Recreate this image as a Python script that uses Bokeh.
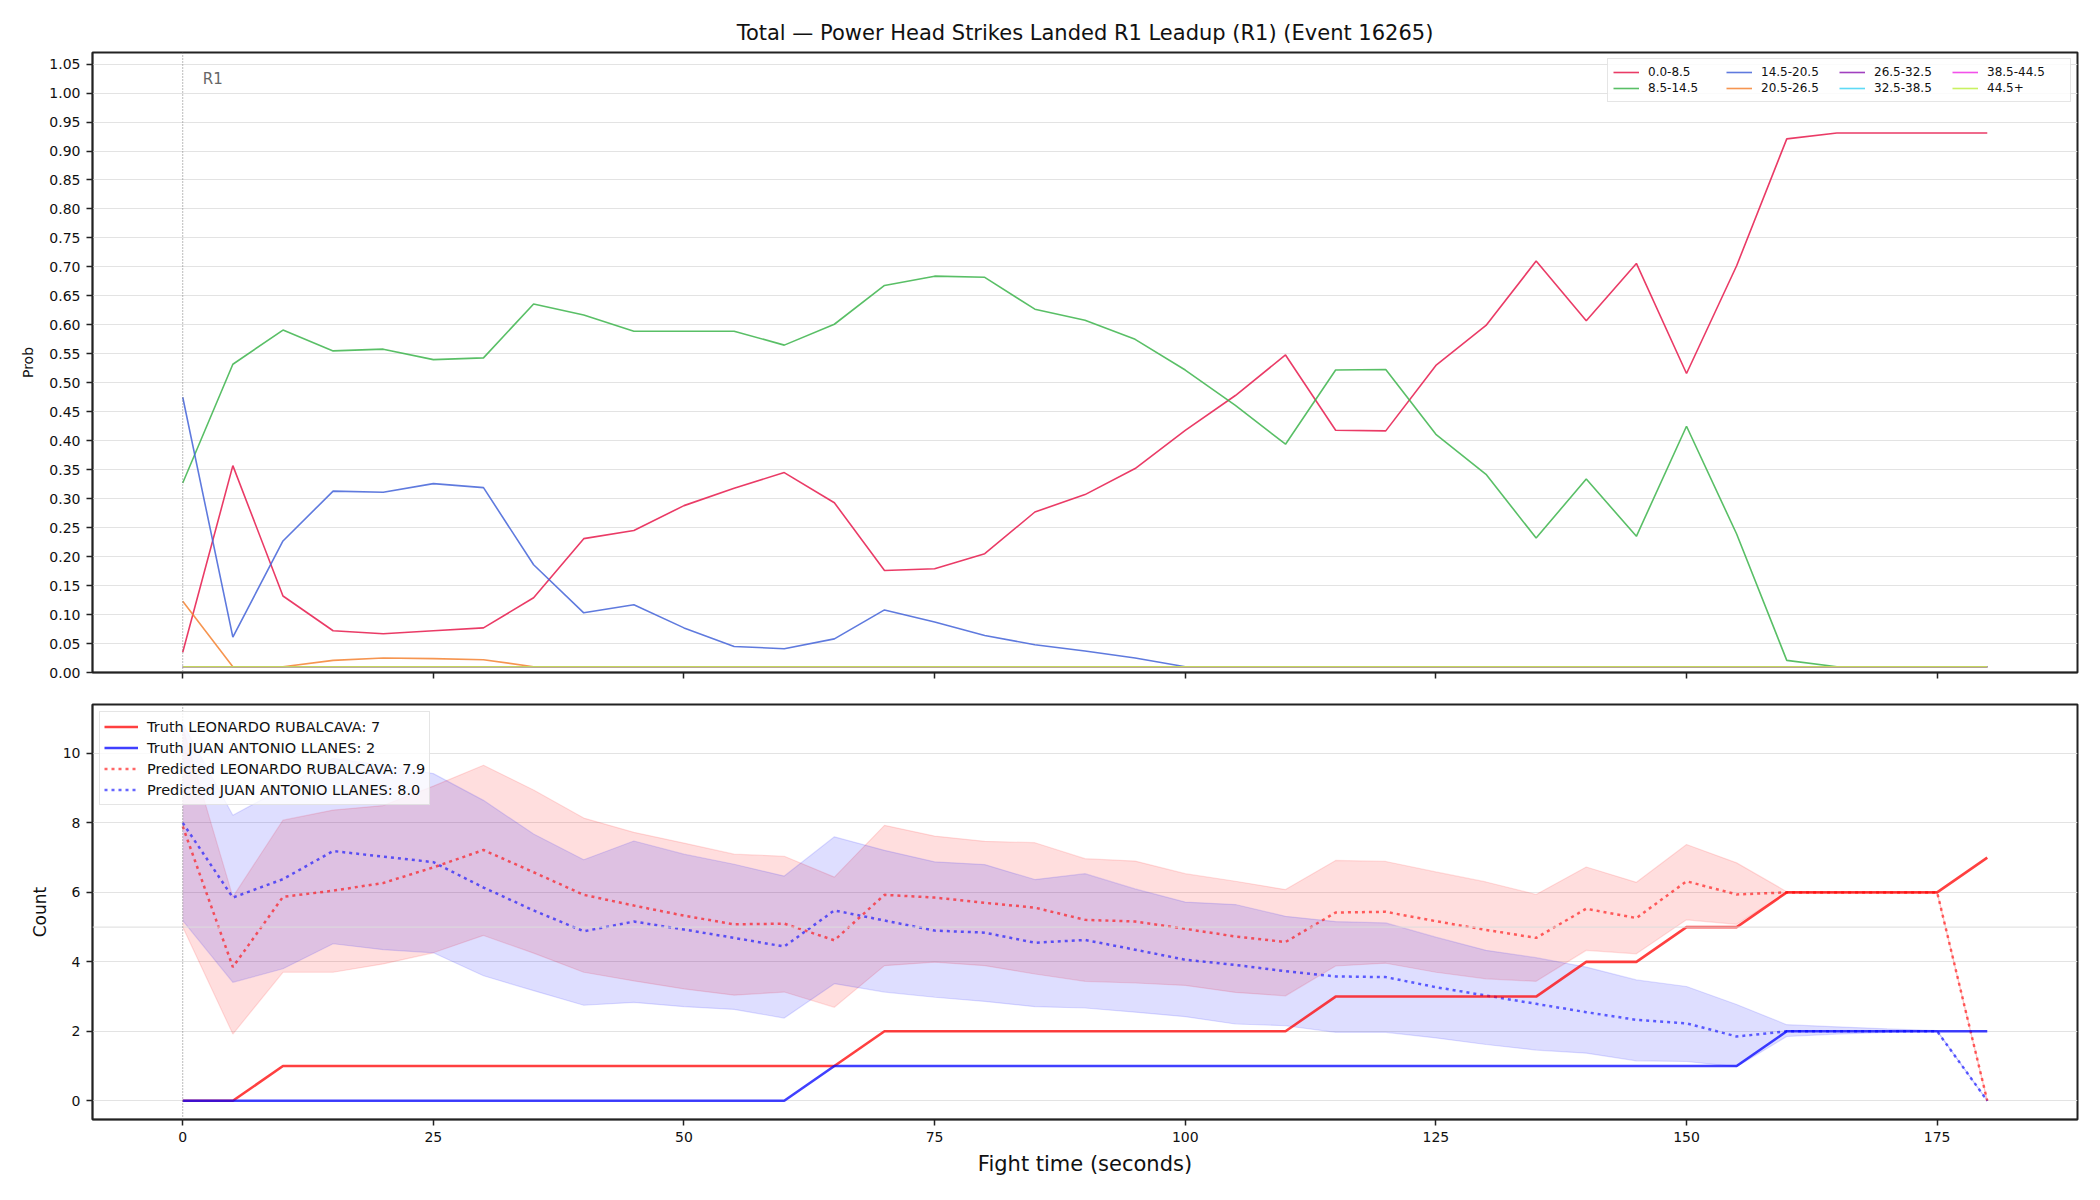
from bokeh.plotting import figure
from bokeh.models import (Range1d, FixedTicker, PrintfTickFormatter, Span, Label,
                          Legend, LegendItem)
from bokeh.layouts import column
from bokeh.embed import file_html
from bokeh.resources import INLINE

FONT = "DejaVu Sans"

# ---------------- data ----------------
times = [0, 5, 10, 15, 20, 25, 30, 35, 40, 45, 50, 55, 60, 65, 70, 75, 80, 85, 90,
         95, 100, 105, 110, 115, 120, 125, 130, 135, 140, 145, 150, 155, 160, 165,
         170, 175, 180]

bucket_labels = ["0.0-8.5", "8.5-14.5", "14.5-20.5", "20.5-26.5",
                 "26.5-32.5", "32.5-38.5", "38.5-44.5", "44.5+"]

prob_0_8 = [0.035, 0.357, 0.132, 0.072, 0.067, 0.072, 0.077, 0.129, 0.231, 0.245,
            0.288, 0.318, 0.345, 0.293, 0.176, 0.179, 0.205, 0.277, 0.307, 0.352,
            0.418, 0.478, 0.548, 0.418, 0.417, 0.530, 0.599, 0.710, 0.607, 0.706,
            0.516, 0.702, 0.921, 0.931, 0.931, 0.931, 0.931]
prob_8_14 = [0.327, 0.532, 0.591, 0.555, 0.558, 0.540, 0.543, 0.636, 0.617, 0.589,
             0.589, 0.589, 0.565, 0.601, 0.668, 0.684, 0.682, 0.627, 0.608, 0.575,
             0.522, 0.461, 0.394, 0.522, 0.523, 0.411, 0.342, 0.232, 0.334, 0.235,
             0.425, 0.239, 0.021, 0.010, 0.010, 0.010, 0.010]
prob_14_20 = [0.475, 0.061, 0.227, 0.313, 0.311, 0.326, 0.319, 0.186, 0.103, 0.117,
              0.077, 0.045, 0.041, 0.058, 0.108, 0.087, 0.064, 0.048, 0.037, 0.025,
              0.010, 0.010, 0.010, 0.010, 0.010, 0.010, 0.010, 0.010, 0.010, 0.010,
              0.010, 0.010, 0.010, 0.010, 0.010, 0.010, 0.010]
prob_20_26 = [0.123, 0.010, 0.010, 0.021, 0.025, 0.024, 0.022, 0.010, 0.010, 0.010,
              0.010, 0.010, 0.010, 0.010, 0.010, 0.010, 0.010, 0.010, 0.010, 0.010,
              0.010, 0.010, 0.010, 0.010, 0.010, 0.010, 0.010, 0.010, 0.010, 0.010,
              0.010, 0.010, 0.010, 0.010, 0.010, 0.010, 0.010]
prob_26_32 = [0.010, 0.010, 0.010, 0.010, 0.010, 0.010, 0.010, 0.010, 0.010, 0.010,
              0.010, 0.010, 0.010, 0.010, 0.010, 0.010, 0.010, 0.010, 0.010, 0.010,
              0.010, 0.010, 0.010, 0.010, 0.010, 0.010, 0.010, 0.010, 0.010, 0.010,
              0.010, 0.010, 0.010, 0.010, 0.010, 0.010, 0.010]
prob_32_38 = [0.010, 0.010, 0.010, 0.010, 0.010, 0.010, 0.010, 0.010, 0.010, 0.010,
              0.010, 0.010, 0.010, 0.010, 0.010, 0.010, 0.010, 0.010, 0.010, 0.010,
              0.010, 0.010, 0.010, 0.010, 0.010, 0.010, 0.010, 0.010, 0.010, 0.010,
              0.010, 0.010, 0.010, 0.010, 0.010, 0.010, 0.010]
prob_38_44 = [0.010, 0.010, 0.010, 0.010, 0.010, 0.010, 0.010, 0.010, 0.010, 0.010,
              0.010, 0.010, 0.010, 0.010, 0.010, 0.010, 0.010, 0.010, 0.010, 0.010,
              0.010, 0.010, 0.010, 0.010, 0.010, 0.010, 0.010, 0.010, 0.010, 0.010,
              0.010, 0.010, 0.010, 0.010, 0.010, 0.010, 0.010]
prob_44_plus = [0.010, 0.010, 0.010, 0.010, 0.010, 0.010, 0.010, 0.010, 0.010, 0.010,
                0.010, 0.010, 0.010, 0.010, 0.010, 0.010, 0.010, 0.010, 0.010, 0.010,
                0.010, 0.010, 0.010, 0.010, 0.010, 0.010, 0.010, 0.010, 0.010, 0.010,
                0.010, 0.010, 0.010, 0.010, 0.010, 0.010, 0.010]

# bottom panel (counts)
red_truth = [0, 0, 1, 1, 1, 1, 1, 1, 1, 1, 1, 1, 1, 1, 2, 2, 2, 2, 2, 2, 2, 2, 2,
             3, 3, 3, 3, 3, 4, 4, 5, 5, 6, 6, 6, 6, 7]
blue_truth = [0, 0, 0, 0, 0, 0, 0, 0, 0, 0, 0, 0, 0, 1, 1, 1, 1, 1, 1, 1, 1, 1, 1,
              1, 1, 1, 1, 1, 1, 1, 1, 1, 2, 2, 2, 2, 2]
red_pred = [7.9, 3.85, 5.87, 6.05, 6.27, 6.72, 7.22, 6.58, 5.93, 5.62, 5.33, 5.08,
            5.10, 4.62, 5.93, 5.85, 5.70, 5.56, 5.21, 5.16, 4.95, 4.73, 4.57, 5.42,
            5.44, 5.17, 4.92, 4.69, 5.53, 5.26, 6.32, 5.94, 6.0, 6.0, 6.0, 6.0, 0.0]
red_lo = [5.0, 1.92, 3.70, 3.70, 3.94, 4.26, 4.76, 4.25, 3.70, 3.45, 3.22, 3.04,
          3.13, 2.69, 3.89, 3.99, 3.89, 3.65, 3.44, 3.39, 3.32, 3.12, 3.02, 3.88,
          3.96, 3.70, 3.51, 3.44, 4.33, 4.23, 5.21, 5.08, 6.0, 6.0, 6.0, 6.0, 0.0]
red_hi = [10.75, 5.87, 8.08, 8.37, 8.50, 9.06, 9.66, 8.95, 8.14, 7.73, 7.42, 7.10,
          7.04, 6.44, 7.93, 7.62, 7.47, 7.43, 6.97, 6.90, 6.54, 6.32, 6.08, 6.92,
          6.89, 6.59, 6.30, 5.94, 6.73, 6.29, 7.38, 6.85, 6.02, 6.0, 6.0, 6.0, 0.0]
blue_pred = [8.0, 5.85, 6.38, 7.19, 7.03, 6.87, 6.14, 5.48, 4.88, 5.16, 4.93, 4.69,
             4.44, 5.48, 5.19, 4.90, 4.84, 4.55, 4.63, 4.35, 4.06, 3.91, 3.73, 3.58,
             3.56, 3.27, 3.03, 2.79, 2.55, 2.33, 2.23, 1.85, 2.0, 2.0, 2.0, 2.0, 0.0]
blue_lo = [5.19, 3.41, 3.80, 4.52, 4.35, 4.26, 3.60, 3.17, 2.75, 2.83, 2.71, 2.63,
           2.38, 3.37, 3.13, 2.98, 2.86, 2.71, 2.67, 2.55, 2.42, 2.21, 2.16, 1.97,
           1.97, 1.81, 1.62, 1.46, 1.37, 1.15, 1.13, 0.98, 1.85, 1.92, 1.97, 2.0, 0.0]
blue_hi = [10.87, 8.22, 9.00, 9.86, 9.66, 9.42, 8.65, 7.68, 6.94, 7.48, 7.10, 6.81,
           6.47, 7.60, 7.21, 6.88, 6.80, 6.37, 6.54, 6.10, 5.72, 5.65, 5.31, 5.16,
           5.12, 4.71, 4.33, 4.12, 3.85, 3.48, 3.29, 2.77, 2.19, 2.13, 2.07, 2.02, 0.0]

red_name = "LEONARDO RUBALCAVA"
blue_name = "JUAN ANTONIO LLANES"
red_final_truth = 7
blue_final_truth = 2
red_first_pred = 7.9
blue_first_pred = 8.0

x_ticks = [0, 25, 50, 75, 100, 125, 150, 175]
prob_ticks = [0.0, 0.05, 0.1, 0.15, 0.2, 0.25, 0.3, 0.35, 0.4, 0.45, 0.5, 0.55,
              0.6, 0.65, 0.7, 0.75, 0.8, 0.85, 0.9, 0.95, 1.0, 1.05]
count_ticks = [0, 2, 4, 6, 8, 10]

palette = ["#e6194B", "#3cb44b", "#4363d8", "#f58231",
           "#911eb4", "#42d4f4", "#f032e6", "#bfef45"]

TITLE = "Total \u2014 Power Head Strikes Landed R1 Leadup (R1) (Event 16265)"

SPINE = "#222222"
GRID = "#e3e3e3"
TICK_FS = "14px"


def style_axes(p):
    for ax in (p.xaxis, p.yaxis):
        ax.axis_line_color = SPINE
        ax.axis_line_width = 1.5
        ax.major_tick_line_color = SPINE
        ax.major_tick_line_width = 1.5
        ax.major_tick_out = 6
        ax.major_tick_in = 0
        ax.minor_tick_line_color = None
        ax.major_label_text_font = FONT
        ax.major_label_text_font_size = TICK_FS
        ax.major_label_text_color = "#111111"
        ax.major_label_standoff = 6
        ax.axis_label_text_font = FONT
        ax.axis_label_text_font_style = "normal"
        ax.axis_label_text_color = "#111111"
    p.xgrid.grid_line_color = None
    p.ygrid.grid_line_color = GRID
    p.ygrid.grid_line_width = 1
    p.outline_line_color = SPINE
    p.outline_line_width = 2
    p.background_fill_color = "white"
    p.border_fill_color = "white"


# ---------------- top panel ----------------
p1 = figure(frame_width=1985, frame_height=620, x_range=Range1d(-9, 189),
            y_range=Range1d(0, 1.07), output_backend="svg", toolbar_location=None,
            min_border_left=92, min_border_right=23, min_border_top=52,
            min_border_bottom=16)
p1.title.text = TITLE
p1.title.align = "center"
p1.title.text_font = FONT
p1.title.text_font_size = "21px"
p1.title.text_font_style = "normal"
p1.title.text_color = "#111111"
p1.title.standoff = 15
style_axes(p1)
p1.xaxis.ticker = FixedTicker(ticks=x_ticks)
p1.xaxis.major_label_text_color = None
p1.xaxis.major_label_text_font_size = "2px"
p1.xaxis.major_label_standoff = 0
p1.yaxis.ticker = FixedTicker(ticks=prob_ticks)
p1.yaxis.formatter = PrintfTickFormatter(format="%.2f")
p1.yaxis.axis_label = "Prob"
p1.yaxis.axis_label_text_font_size = "14px"
p1.yaxis.axis_label_standoff = 10

series = [prob_0_8, prob_8_14, prob_14_20, prob_20_26,
          prob_26_32, prob_32_38, prob_38_44, prob_44_plus]
items1 = []
for lab, vals, col in zip(bucket_labels, series, palette):
    r = p1.line(times, vals, line_color=col, line_width=1.6, line_alpha=0.85)
    items1.append(LegendItem(label=lab, renderers=[r]))

p1.add_layout(Span(location=0, dimension="height", line_color="#777777",
                   line_dash="1 2", line_width=1))
p1.add_layout(Label(x=2, y=1.025, text="R1", text_color="#666666",
                    text_font=FONT, text_font_size="15px",
                    text_baseline="middle", text_align="left"))

leg1 = Legend(items=items1, location="top_right", ncols=4)
leg1.label_text_font = FONT
leg1.label_text_font_size = "12px"
leg1.label_text_color = "#111111"
leg1.border_line_color = "#cccccc"
leg1.border_line_width = 1
leg1.background_fill_alpha = 0.85
leg1.padding = 5
leg1.spacing = 0
leg1.margin = 6
leg1.glyph_width = 26
leg1.glyph_height = 16
leg1.label_height = 16
leg1.label_width = 78
leg1.label_standoff = 9
p1.add_layout(leg1)

# ---------------- bottom panel ----------------
p2 = figure(frame_width=1985, frame_height=415, x_range=p1.x_range,
            y_range=Range1d(-0.54, 11.41), output_backend="svg",
            toolbar_location=None, min_border_left=92, min_border_right=23,
            min_border_top=16, min_border_bottom=81)
style_axes(p2)
p2.xaxis.ticker = FixedTicker(ticks=x_ticks)
p2.yaxis.ticker = FixedTicker(ticks=count_ticks)
p2.yaxis.axis_label = "Count"
p2.yaxis.axis_label_text_font_size = "17px"
p2.yaxis.axis_label_standoff = 10
p2.xaxis.axis_label = "Fight time (seconds)"
p2.xaxis.axis_label_text_font_size = "21px"
p2.xaxis.axis_label_standoff = 7

p2.add_layout(Span(location=5, dimension="width", line_color="#dcdcdc",
                   line_width=1))

p2.varea(x=times, y1=red_lo, y2=red_hi, fill_color="red", fill_alpha=0.13)
p2.line(times, red_hi, line_color="red", line_alpha=0.12, line_width=1.2)
p2.line(times, red_lo, line_color="red", line_alpha=0.12, line_width=1.2)
p2.varea(x=times, y1=blue_lo, y2=blue_hi, fill_color="blue", fill_alpha=0.13)
p2.line(times, blue_hi, line_color="blue", line_alpha=0.12, line_width=1.2)
p2.line(times, blue_lo, line_color="blue", line_alpha=0.12, line_width=1.2)

rp = p2.line(times, red_pred, line_color="red", line_alpha=0.6, line_width=2.5,
             line_dash="3 4")
bp = p2.line(times, blue_pred, line_color="blue", line_alpha=0.6, line_width=2.5,
             line_dash="3 4")
rt = p2.line(times, red_truth, line_color="red", line_alpha=0.75, line_width=2.6)
bt = p2.line(times, blue_truth, line_color="blue", line_alpha=0.75, line_width=2.6)

p2.add_layout(Span(location=0, dimension="height", line_color="#777777",
                   line_dash="1 2", line_width=1))

items2 = [
    LegendItem(label=f"Truth {red_name}: {red_final_truth}", renderers=[rt]),
    LegendItem(label=f"Truth {blue_name}: {blue_final_truth}", renderers=[bt]),
    LegendItem(label=f"Predicted {red_name}: {red_first_pred:.1f}", renderers=[rp]),
    LegendItem(label=f"Predicted {blue_name}: {blue_first_pred:.1f}", renderers=[bp]),
]
leg2 = Legend(items=items2, location="top_left")
leg2.label_text_font = FONT
leg2.label_text_font_size = "14.5px"
leg2.label_text_color = "#111111"
leg2.border_line_color = "#cccccc"
leg2.border_line_width = 1
leg2.background_fill_alpha = 0.8
leg2.padding = 4
leg2.spacing = 0
leg2.margin = 7
leg2.glyph_width = 34
leg2.glyph_height = 21
leg2.label_height = 21
leg2.label_standoff = 9
p2.add_layout(leg2)

layout = column(p1, p2, spacing=0)
open("out.html", "w").write(file_html(layout, INLINE))
